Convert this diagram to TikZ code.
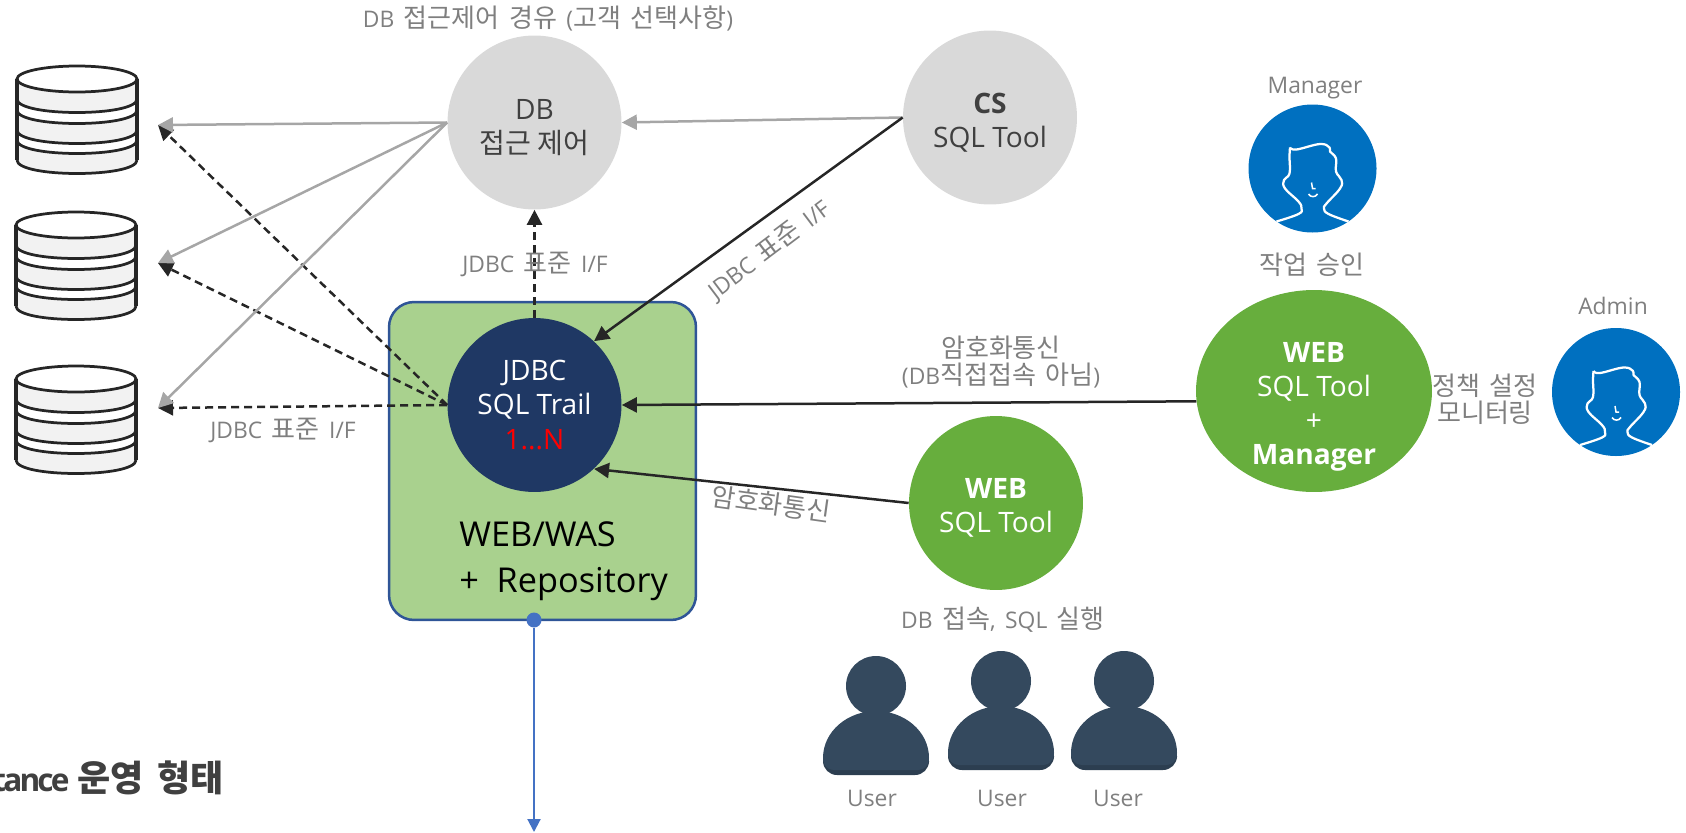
\documentclass[tikz,border=0pt]{standalone}
\usepackage{fontspec}
\setmainfont{Open Sans}
\newfontfamily\kr{Noto Sans CJK KR}
\newfontfamily\krhead[Scale=1.14]{Noto Sans CJK KR}
\newfontfamily\tagfont[WordSpace=1.6]{Open Sans}
\newfontfamily\krtag[Scale=1.14, WordSpace=1.6]{Noto Sans CJK KR}
\newfontfamily\tight[LetterSpace=-9]{Open Sans}
\usepackage{tikz}
\usetikzlibrary{positioning,shapes,arrows.meta,calc}
\definecolor{lightgray}{HTML}{D9D9D9}
\definecolor{textgray}{HTML}{7F7F7F}
\definecolor{darktext}{HTML}{404040}
\definecolor{linegray}{HTML}{A6A6A6}
\definecolor{linedark}{HTML}{262626}
\definecolor{navy}{HTML}{1F3864}
\definecolor{boxgreen}{HTML}{A9D18E}
\definecolor{boxedge}{HTML}{2F5597}
\definecolor{webgreen}{HTML}{67AE3D}
\definecolor{iconblue}{HTML}{0070C0}
\definecolor{slate}{HTML}{34495E}
\definecolor{slatedark}{HTML}{2C3E50}
\definecolor{linkblue}{HTML}{4472C4}
\definecolor{stackgray}{HTML}{F2F2F2}
\tikzset{
  dbstack/.pic={
    \foreach \ytop in {0,31,61}{
      \fill[stackgray] (-60,\ytop) .. controls (-60,\ytop+18) and (60,\ytop+18) .. (60,\ytop)
        -- (60,\ytop+20) .. controls (60,\ytop+38) and (-60,\ytop+38) .. (-60,\ytop+20) -- cycle;
      \draw[line width=0.055cm, linedark] (-60,\ytop+20)
        .. controls (-60,\ytop+38) and (60,\ytop+38) .. (60,\ytop+20);
    }
    \draw[line width=0.055cm, linedark, fill=white] (0,0) ellipse [x radius=60, y radius=13];
    \foreach \ytop in {31,61}
      \draw[line width=0.055cm, linedark] (-60,\ytop)
        .. controls (-60,\ytop+18) and (60,\ytop+18) .. (60,\ytop);
    \draw[line width=0.07cm, linedark] (-60,0) -- (-60,81);
    \draw[line width=0.07cm, linedark] (60,0) -- (60,81);
  },
  usericon/.pic={
    \fill[slatedark, rounded corners=0.28cm] (-53,62) rectangle (53,89);
    \fill[slate] (-53,72) .. controls (-53,45) and (-28,25) .. (0,25)
      .. controls (28,25) and (53,45) .. (53,72)
      .. controls (53,80) and (48,84) .. (42,84) -- (-42,84)
      .. controls (-48,84) and (-53,80) .. (-53,72) -- cycle;
    \fill[slate] (0,0) circle [radius=30];
  },
  faceicon/.pic={
    \fill[iconblue] (0,0) circle [radius=64];
    \draw[white, line width=0.045cm, line join=round] plot [smooth, tension=0.7] coordinates {
      (-36,53) (-14,45.5) (-11,40) (-14,33) (-27.5,20) (-28.5,11.5) (-23,5) (-23,-12) (-22.5,-21)};
    \draw[white, line width=0.045cm, line join=round] plot [smooth, tension=0.7] coordinates {
      (-22.5,-21) (-16,-19) (7.5,-24.5) (17,-21) (17.5,-17) (23.5,-10) (23.5,3) (29,11.5)
      (27.5,20) (14,35) (11.5,40) (16,45.5) (36,53)};
    \draw[white, line width=0.03cm] (-1,14) -- (0,20) -- (3,20);
    \draw[white, line width=0.03cm] (-4,25.5) .. controls (-2,29) and (3,29) .. (5,25.5);
  }
}
\begin{document}
\begin{tikzpicture}[
  x=0.02cm, y=-0.02cm,
  bubble/.style={
    shape=circle,
    minimum size=3.48cm,
    inner sep=0pt,
    align=center,
    font=\fontsize{16}{19.4}\selectfont,
  },
  grayball/.style={bubble, fill=lightgray, text=darktext},
  navyball/.style={bubble, fill=navy, text=white},
  greenball/.style={bubble, fill=webgreen, text=white},
  tag/.style={text=textgray, inner sep=0pt, align=center,
    font=\tagfont\fontsize{13}{15.5}\selectfont},
  grayline/.style={line width=0.05cm, linegray, -{Triangle[length=0.3cm, width=0.3cm]}},
  darkline/.style={line width=0.05cm, linedark, -{Triangle[length=0.3cm, width=0.3cm]}},
  dashline/.style={darkline, dash pattern=on 0.16cm off 0.1cm},
  ]
  \useasboundingbox (0,0) rectangle (1686,832);

  % storage
  \pic at (77,79) {dbstack};
  \pic at (76,225) {dbstack};
  \pic at (76,379) {dbstack};
  \coordinate (dbtopin) at (158,125);
  \coordinate (dbmidin) at (158,263);
  \coordinate (dblowin) at (158,408);

  % server box
  \node[draw=boxedge, line width=0.05cm, fill=boxgreen, rounded corners=0.5cm,
    minimum width=6.14cm, minimum height=6.36cm, inner sep=0pt] (wasbox) at (542.5,461) {};
  \node[navyball] (trail) at (534.5,405) {JDBC\\SQL Trail\\\textcolor{red}{1...N}};
  \node[anchor=west, inner sep=0pt, align=left, font=\fontsize{19.5}{26.5}\selectfont] (waslabel)
    at (459,561) {WEB/WAS\\ +\ \ Repository};

  % circles
  \node[grayball] (access) at (534.5,122.5) {\rule{0pt}{17pt}DB\\{\kr 접근 제어}};
  \node[grayball] (cstool) at (990,117.5) {\rule{0pt}{17pt}\textbf{CS}\\SQL Tool};
  \node[greenball] (webtool) at (996,503) {\rule{0pt}{17pt}\textbf{WEB}\\SQL Tool};
  \node[greenball, shape=ellipse, minimum width=4.72cm, minimum height=4.04cm] (webmgr)
    at (1314,391) {};
  \node[bubble, minimum size=0pt, shape=rectangle, text=white] (webmgrtext)
    at (1314,406.5) {\textbf{WEB}\\SQL Tool\\+\\\textbf{Manager}};

  % people
  \pic at (1312.5,168.5) {faceicon};
  \pic at (1616,392) {faceicon};
  \pic at (876,686) {usericon};
  \pic at (1001,681) {usericon};
  \pic at (1124,681) {usericon};

  % connectors
  \draw[dashline] (trail.north) -- (access.south);
  \draw[dashline] (trail.west) -- (dbtopin);
  \draw[dashline] (trail.west) -- (dbmidin);
  \draw[dashline] (trail.west) -- (dblowin);
  \draw[grayline] (access.west) -- (dbtopin);
  \draw[grayline] (access.west) -- (dbmidin);
  \draw[grayline] (access.west) -- (dblowin);
  \draw[grayline] (cstool.west) -- (access.east);
  \draw[darkline] (cstool.west) -- (trail.47);
  \draw[darkline] (webmgr.185) -- (trail.east);
  \draw[darkline] (webtool.west) -- (trail.-47);

  % repository link
  \node[circle, fill=linkblue, minimum size=0.3cm, inner sep=0pt] (wasdot) at (534,620) {};
  \coordinate (wasend) at (534,832);
  \draw[line width=0.04cm, linkblue, -{Triangle[length=0.26cm, width=0.26cm]}] (wasdot) -- (wasend);

  % labels
  \node[tag] (lblroute) at (548,18) {DB {\krtag 접근제어 경유} ({\krtag 고객 선택사항})};
  \node[tag] (lbljdbca) at (535,264) {JDBC {\krtag 표준} I/F};
  \node[tag, rotate=37] (lbljdbcb) at (769,250) {JDBC {\krtag 표준} I/F};
  \node[tag] (lbljdbcc) at (283,430) {JDBC {\krtag 표준} I/F};
  \node[tag] (lblcipher) at (1001,362) {{\krtag 암호화통신}\\(DB{\krtag 직접접속 아님})};
  \node[tag, rotate=-8] (lblcipherb) at (771,504) {\krtag 암호화통신};
  \node[tag] (lblexec) at (1003,620) {DB {\krtag 접속}, SQL {\krtag 실행}};
  \node[tag] (lblmgr) at (1315,88) {Manager};
  \node[tag] (lblappr) at (1312,265) {\krtag 작업 승인};
  \node[tag] (lbladmin) at (1613,306) {Admin};
  \node[tag] (lblpolicy) at (1485,399) {{\krtag 정책 설정}\\{\krtag 모니터링}};
  \node[tag] (lblusera) at (872,798) {User};
  \node[tag] (lbluserb) at (1002,798) {User};
  \node[tag] (lbluserc) at (1118,798) {User};
  \node[anchor=east, inner sep=0pt, text=darktext, font=\fontsize{18}{20}\selectfont\bfseries] (lblform)
    at (224,778) {{\tight tance} {\krhead 운영 형태}};
\end{tikzpicture}
\end{document}
